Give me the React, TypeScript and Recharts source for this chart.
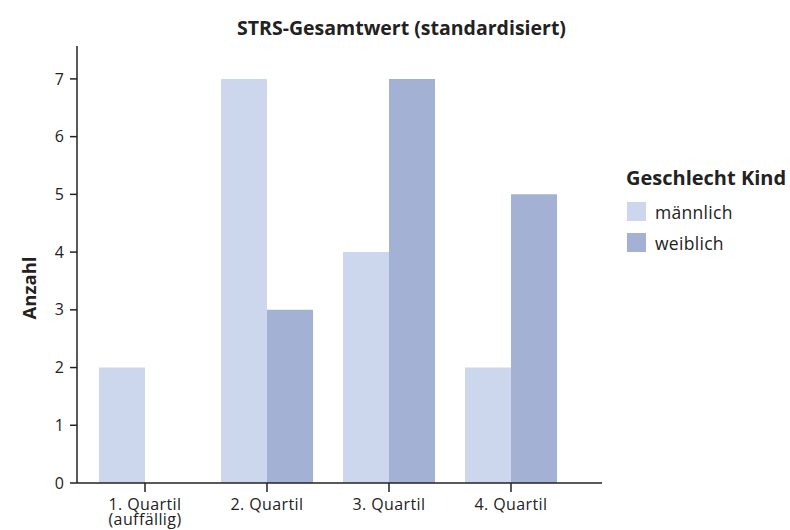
import React from "react";
import { BarChart, Bar, XAxis, YAxis, Label } from "recharts";

const categories = ["1. Quartil\n(auffällig)", "2. Quartil", "3. Quartil", "4. Quartil"];
const maennlich = [2, 7, 4, 2];
const weiblich = [0, 3, 7, 5];
const yTicks = [0, 1, 2, 3, 4, 5, 6, 7];
const seriesNames = ["männlich", "weiblich"];

const data = categories.map((c, i) => ({ cat: c, maennlich: maennlich[i], weiblich: weiblich[i] }));

const COLOR_M = "#CCD7EE";
const COLOR_W = "#A3B1D4";
const FONT = "'Open Sans', sans-serif";

const XTick = (props: any) => {
  const { x, y, payload } = props;
  const lines = String(payload.value).split("\n");
  return (
    <g transform={`translate(${x},${y})`}>
      <text textAnchor="middle" fontFamily={FONT} fontSize={16} fill="#222" letterSpacing={0.4}>
        {lines.map((l, i) => (
          <tspan key={i} x={0} dy={i === 0 ? 16 : 15}>{l}</tspan>
        ))}
      </text>
    </g>
  );
};

export default function App() {
  return (
    <div style={{ position: "absolute", left: 0, top: 0, width: 790, height: 530, background: "#fff" }}>
      <div style={{ position: "absolute", left: 0, width: 803, top: 14, textAlign: "center", fontFamily: FONT, fontWeight: 700, fontSize: 19.5, color: "#222" }}>
        STRS-Gesamtwert (standardisiert)
      </div>
      <div style={{ position: "absolute", left: 626, top: 164, width: 170, fontFamily: FONT }}>
        <div style={{ fontWeight: 700, fontSize: 20, color: "#222", marginBottom: 5, whiteSpace: "nowrap" }}>Geschlecht Kind</div>
        {seriesNames.map((n, i) => (
          <div key={n} style={{ display: "flex", alignItems: "center", height: 31, marginLeft: 1 }}>
            <div style={{ width: 19, height: 19, background: i === 0 ? COLOR_M : COLOR_W, marginRight: 9 }} />
            <span style={{ fontSize: 17.5, color: "#222", letterSpacing: 0.3 }}>{n}</span>
          </div>
        ))}
      </div>
      <BarChart
        width={790}
        height={530}
        data={data}
        margin={{ top: 46, right: 188, bottom: 0, left: 0 }}
        barCategoryGap={15}
        barGap={0}
        style={{ position: "absolute", left: 0, top: 0 }}
      >
        <XAxis
          dataKey="cat"
          height={47}
          padding={{ left: 7, right: 30 }}
          stroke="#222"
          strokeWidth={1.5}
          tickSize={9}
          tick={<XTick />}
          interval={0}
        />
        <YAxis
          width={77}
          domain={[0, 7.57]}
          ticks={yTicks}
          allowDataOverflow
          stroke="#222"
          strokeWidth={1.5}
          tickSize={7}
          tickMargin={6}
          tick={{ fontFamily: FONT, fontSize: 16, fill: "#222" }}
        >
          <Label
            content={() => (
              <text x={36} y={288} transform="rotate(-90 36 288)" textAnchor="middle" fontFamily={FONT} fontWeight={700} fontSize={18.5} fill="#222">
                Anzahl
              </text>
            )}
          />
        </YAxis>
        <Bar dataKey="maennlich" name={seriesNames[0]} fill={COLOR_M} isAnimationActive={false} />
        <Bar dataKey="weiblich" name={seriesNames[1]} fill={COLOR_W} isAnimationActive={false} />
      </BarChart>
    </div>
  );
}
